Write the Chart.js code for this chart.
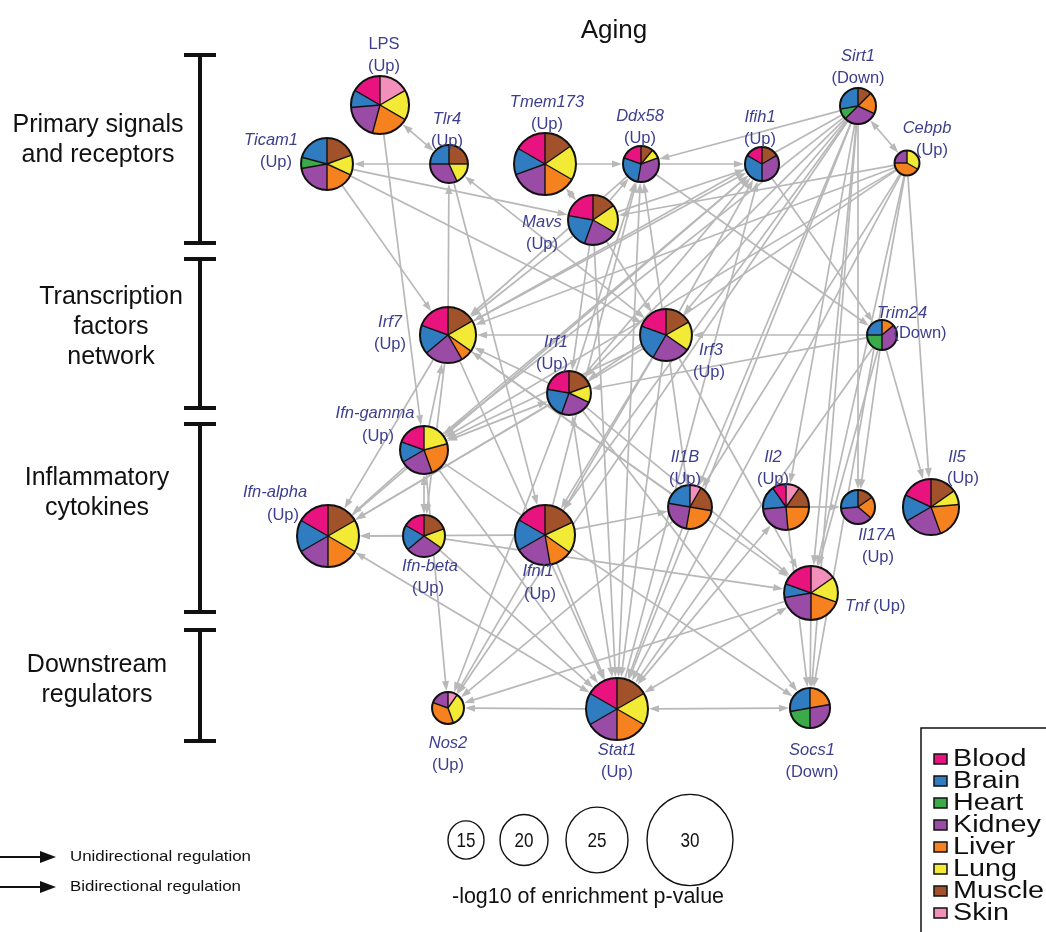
<!DOCTYPE html>
<html>
<head>
<meta charset="utf-8">
<title>Aging</title>
<script src="https://cdn.jsdelivr.net/npm/chart.js@4.4.1/dist/chart.umd.min.js"></script>
<style>
  html, body { margin: 0; padding: 0; background: #fff; }
  #net { display: block; }
</style>
</head>
<body>
<canvas id="net" width="1046" height="932" style="width:1046px;height:932px"></canvas>
<script>
// genes in the network
const nodeNames = ['LPS', 'Ticam1', 'Tlr4', 'Tmem173', 'Ddx58', 'Ifih1', 'Sirt1', 'Cebpb', 'Mavs',
    'Irf7', 'Irf1', 'Irf3', 'Trim24', 'Ifn-gamma', 'Ifn-alpha', 'Ifn-beta', 'Ifnl1', 'Il1B', 'Il2',
    'Il17A', 'Il5', 'Tnf', 'Nos2', 'Stat1', 'Socs1'];
const nodeChange = ['Up', 'Up', 'Up', 'Up', 'Up', 'Up', 'Down', 'Up', 'Up',
    'Up', 'Up', 'Up', 'Down', 'Up', 'Up', 'Up', 'Up', 'Up', 'Up',
    'Up', 'Up', 'Up', 'Up', 'Up', 'Down'];

// network layout
const layoutX = [380, 327, 449, 545, 641, 762, 858, 907, 593, 448, 569, 666, 882, 424, 328, 424, 545, 690, 786, 858, 931, 811, 448, 617, 810];
const layoutY = [105, 164, 164, 164, 164, 164, 106, 163, 220, 335, 393, 335, 335, 450, 536, 536, 535, 507, 507, 507, 507, 593, 708, 709, 708];

// -log10 of enrichment p-value
const enrichment = [23.6, 21.4, 15.8, 25.0, 15.0, 14.2, 15.0, 10.4, 20.7, 22.9, 18.3, 21.4, 12.5,
    20.0, 25.0, 17.5, 24.3, 18.3, 19.2, 14.2, 22.9, 22.1, 13.3, 25.0, 16.7];
const sizeTicks = [15, 20, 25, 30];

const tissues = ['Blood', 'Brain', 'Heart', 'Kidney', 'Liver', 'Lung', 'Muscle', 'Skin'];
// share of each tissue per gene, same order as tissues
const tissueShares = [
    [60, 35, 0, 70, 75, 60, 0, 60],    // LPS
    [0, 75, 25, 80, 65, 45, 70, 0],    // Ticam1
    [0, 90, 0, 115, 0, 65, 90, 0],     // Tlr4
    [60, 50, 0, 70, 60, 65, 55, 0],    // Tmem173
    [70, 100, 0, 120, 0, 30, 40, 0],   // Ddx58
    [60, 120, 0, 120, 0, 0, 60, 0],    // Ifih1
    [0, 100, 35, 110, 70, 0, 45, 0],   // Sirt1
    [0, 0, 0, 90, 150, 120, 0, 0],     // Cebpb
    [80, 80, 0, 80, 0, 65, 55, 0],     // Mavs
    [70, 60, 0, 80, 25, 65, 60, 0],    // Irf7
    [80, 80, 0, 85, 0, 45, 70, 0],     // Irf1
    [70, 80, 0, 85, 0, 65, 60, 0],     // Irf3
    [0, 90, 90, 130, 50, 0, 0, 0],     // Trim24
    [70, 50, 0, 80, 85, 75, 0, 0],     // Ifn-gamma
    [60, 60, 0, 60, 60, 60, 60, 0],    // Ifn-alpha
    [60, 70, 0, 105, 0, 55, 70, 0],    // Ifn-beta
    [60, 60, 0, 70, 45, 60, 65, 0],    // Ifnl1
    [0, 80, 0, 90, 90, 0, 70, 30],     // Il1B
    [35, 60, 0, 90, 85, 0, 55, 35],    // Il2
    [0, 95, 0, 135, 75, 0, 55, 0],     // Il17A
    [65, 55, 0, 80, 75, 30, 55, 0],    // Il5
    [70, 30, 0, 80, 70, 55, 0, 55],    // Tnf
    [0, 0, 0, 70, 130, 125, 0, 35],    // Nos2
    [60, 60, 0, 60, 60, 60, 60, 0],    // Stat1
    [0, 100, 80, 100, 80, 0, 0, 0]     // Socs1
];

// regulation: [from, to, bidirectional]
const edges = [
    ['LPS', 'Tlr4', 1], ['LPS', 'Ifn-gamma', 0],
    ['Tlr4', 'Ticam1', 0], ['Ticam1', 'Mavs', 0], ['Ticam1', 'Irf7', 0], ['Ticam1', 'Irf3', 0],
    ['Irf7', 'Tlr4', 0], ['Tlr4', 'Irf3', 1], ['Tlr4', 'Ifnl1', 0],
    ['Tmem173', 'Ddx58', 0], ['Mavs', 'Tmem173', 1],
    ['Mavs', 'Ddx58', 0], ['Mavs', 'Ifih1', 0], ['Mavs', 'Irf7', 0], ['Mavs', 'Irf3', 0],
    ['Mavs', 'Irf1', 0], ['Mavs', 'Stat1', 0],
    ['Ddx58', 'Ifih1', 0], ['Ddx58', 'Irf7', 0], ['Ddx58', 'Stat1', 1], ['Ddx58', 'Trim24', 0],
    ['Ifih1', 'Trim24', 0],
    ['Sirt1', 'Ddx58', 0], ['Sirt1', 'Cebpb', 1], ['Sirt1', 'Irf7', 0], ['Sirt1', 'Irf1', 0],
    ['Sirt1', 'Irf3', 0], ['Sirt1', 'Ifn-gamma', 0], ['Sirt1', 'Ifnl1', 0], ['Sirt1', 'Stat1', 0],
    ['Sirt1', 'Il1B', 0], ['Sirt1', 'Il2', 0], ['Sirt1', 'Tnf', 0], ['Sirt1', 'Il17A', 0],
    ['Sirt1', 'Socs1', 0], ['Sirt1', 'Nos2', 0],
    ['Cebpb', 'Irf7', 0], ['Cebpb', 'Mavs', 0], ['Cebpb', 'Irf1', 0], ['Cebpb', 'Ifn-gamma', 0],
    ['Cebpb', 'Stat1', 0], ['Cebpb', 'Il1B', 0], ['Cebpb', 'Tnf', 0], ['Cebpb', 'Il5', 0],
    ['Cebpb', 'Socs1', 0],
    ['Irf3', 'Irf7', 0], ['Irf3', 'Ifih1', 0], ['Irf3', 'Ddx58', 0], ['Irf3', 'Ifn-gamma', 0],
    ['Irf3', 'Ifn-alpha', 0], ['Irf3', 'Ifnl1', 0], ['Irf3', 'Stat1', 0], ['Irf3', 'Tnf', 0],
    ['Irf3', 'Il1B', 0], ['Irf3', 'Nos2', 0],
    ['Irf1', 'Irf7', 0], ['Irf1', 'Ifn-gamma', 1], ['Irf1', 'Ifn-alpha', 0], ['Irf1', 'Stat1', 1],
    ['Irf1', 'Nos2', 0], ['Irf1', 'Tnf', 0], ['Irf1', 'Socs1', 0], ['Irf1', 'Ddx58', 0],
    ['Irf1', 'Ifih1', 0],
    ['Irf7', 'Ifn-alpha', 0], ['Irf7', 'Ifn-beta', 0], ['Irf7', 'Stat1', 0], ['Irf7', 'Ifih1', 0],
    ['Irf7', 'Tnf', 0],
    ['Trim24', 'Irf3', 0], ['Trim24', 'Il5', 0], ['Trim24', 'Il17A', 0], ['Trim24', 'Tnf', 0],
    ['Trim24', 'Stat1', 0], ['Trim24', 'Irf1', 0],
    ['Ifn-gamma', 'Ifn-beta', 1], ['Ifn-gamma', 'Ifn-alpha', 0], ['Ifn-gamma', 'Irf7', 0],
    ['Ifn-gamma', 'Stat1', 0], ['Ifn-gamma', 'Nos2', 0], ['Ifn-gamma', 'Socs1', 0],
    ['Ifn-gamma', 'Ifih1', 0],
    ['Ifn-alpha', 'Stat1', 1], ['Ifn-alpha', 'Ifih1', 0],
    ['Ifn-beta', 'Ifn-alpha', 0], ['Ifn-beta', 'Stat1', 0], ['Ifn-beta', 'Tnf', 0],
    ['Ifnl1', 'Ifn-alpha', 0], ['Ifnl1', 'Stat1', 0], ['Ifnl1', 'Il1B', 0], ['Ifnl1', 'Ddx58', 0],
    ['Il1B', 'Stat1', 0], ['Il1B', 'Nos2', 0], ['Il1B', 'Irf7', 0],
    ['Il2', 'Il17A', 0], ['Il2', 'Stat1', 1], ['Il2', 'Socs1', 0],
    ['Tnf', 'Stat1', 1], ['Tnf', 'Nos2', 0], ['Tnf', 'Socs1', 0],
    ['Stat1', 'Nos2', 0], ['Stat1', 'Socs1', 1], ['Stat1', 'Ifih1', 0]
];

const tierNames = [['Primary signals', 'and receptors'], ['Transcription', 'factors', 'network'],
    ['Inflammatory', 'cytokines'], ['Downstream', 'regulators']];

// ---- drawing settings ----
const tissueColors = {
    Blood: '#e8137f', Brain: '#2f7dc0', Heart: '#3bab4a', Kidney: '#9a4ba6',
    Liver: '#f5821f', Lung: '#f3ea35', Muscle: '#a2522b', Skin: '#f28fba'
};
const sizeRadius = [18, 24, 31, 43];     // pixel radius at each size tick
const labelColor = '#3d3e8e';
const edgeColor = '#b8b8b8';
const sansFont = "'Liberation Sans', Arial, sans-serif";

// where the two label lines sit relative to the node centre: [dx, dy, dx2, dy2]
const labelPlace = {
    'LPS': [4, -61], 'Ticam1': [-56, -24, -51, -2], 'Tlr4': [-2, -45], 'Tmem173': [2, -62],
    'Ddx58': [-1, -48], 'Ifih1': [-2, -47], 'Sirt1': [0, -50], 'Cebpb': [20, -35, 25, -13],
    'Mavs': [-51, 2], 'Irf7': [-58, -13], 'Irf1': [-13, -51, -17, -29], 'Irf3': [45, 15, 43, 37],
    'Trim24': [20, -22, 38, -2], 'Ifn-gamma': [-49, -37, -46, -14], 'Ifn-alpha': [-53, -44, -45, -21],
    'Ifn-beta': [6, 30, 4, 52], 'Ifnl1': [-7, 36, -5, 59], 'Il1B': [-5, -50], 'Il2': [-13, -50],
    'Il17A': [19, 28, 20, 50], 'Il5': [26, -50, 32, -29], 'Nos2': [0, 35], 'Stat1': [0, 41],
    'Socs1': [2, 42]
};

function radiusFor(v) {
    // piecewise linear through the size legend, extended at both ends
    let i = 0;
    if (v > sizeTicks[sizeTicks.length - 1]) i = sizeTicks.length - 2;
    else while (i < sizeTicks.length - 2 && v > sizeTicks[i + 1]) i++;
    const t = (v - sizeTicks[i]) / (sizeTicks[i + 1] - sizeTicks[i]);
    return sizeRadius[i] + t * (sizeRadius[i + 1] - sizeRadius[i]);
}

// text squeezed or stretched horizontally by factor k
function stretchText(c, s, x, y, k, align) {
    c.save();
    c.translate(x, y);
    c.scale(k, 1);
    c.textAlign = align || 'center';
    c.fillText(s, 0, 0);
    c.restore();
}

// text squeezed or stretched to a given width
function fitText(c, s, x, y, width, align) {
    stretchText(c, s, x, y, width / c.measureText(s).width, align);
}

function arrowHead(c, x, y, ux, uy, len, wid, color) {
    c.beginPath();
    c.moveTo(x, y);
    c.lineTo(x - ux * len - uy * wid / 2, y - uy * len + ux * wid / 2);
    c.lineTo(x - ux * len + uy * wid / 2, y - uy * len - ux * wid / 2);
    c.closePath();
    c.fillStyle = color;
    c.fill();
}

function drawPie(c, x, y, r, shares) {
    // clockwise from 12 o'clock, reverse tissue order like R's pie()
    const total = shares.reduce((a, b) => a + b, 0);
    let a = -Math.PI / 2;
    const cuts = [];
    for (let k = tissues.length - 1; k >= 0; k--) {
        if (!shares[k]) continue;
        const a2 = a + shares[k] / total * Math.PI * 2;
        c.beginPath();
        c.moveTo(x, y);
        c.arc(x, y, r, a, a2);
        c.closePath();
        c.fillStyle = tissueColors[tissues[k]];
        c.fill();
        cuts.push(a);
        a = a2;
    }
    c.strokeStyle = '#111';
    c.lineWidth = 1.4;
    if (cuts.length > 1) {
        cuts.forEach(ang => {
            c.beginPath();
            c.moveTo(x, y);
            c.lineTo(x + Math.cos(ang) * r, y + Math.sin(ang) * r);
            c.stroke();
        });
    }
    c.lineWidth = 2;
    c.beginPath();
    c.arc(x, y, r, 0, Math.PI * 2);
    c.stroke();
}

const networkPlugin = {
    id: 'network',
    beforeDraw(chart) {
        const c = chart.ctx;
        c.save();
        c.fillStyle = '#fff';
        c.fillRect(0, 0, chart.width, chart.height);
        c.restore();
    },
    beforeDatasetsDraw(chart) {
        const c = chart.ctx;
        const pts = chart.getDatasetMeta(0).data;
        const idx = name => nodeNames.indexOf(name);
        c.save();
        c.strokeStyle = edgeColor;
        c.lineWidth = 1.7;
        edges.forEach(([from, to, both]) => {
            const ia = idx(from), ib = idx(to);
            const a = pts[ia], b = pts[ib];
            const dx = b.x - a.x, dy = b.y - a.y, L = Math.hypot(dx, dy);
            const ux = dx / L, uy = dy / L;
            const ra = radiusFor(enrichment[ia]) + 1, rb = radiusFor(enrichment[ib]) + 1;
            const sx = a.x + ux * ra, sy = a.y + uy * ra;
            const ex = b.x - ux * rb, ey = b.y - uy * rb;
            c.beginPath();
            c.moveTo(both ? sx + ux * 6 : sx, both ? sy + uy * 6 : sy);
            c.lineTo(ex - ux * 6, ey - uy * 6);
            c.stroke();
            arrowHead(c, ex, ey, ux, uy, 10, 7, edgeColor);
            if (both) arrowHead(c, sx, sy, -ux, -uy, 10, 7, edgeColor);
        });
        c.restore();
    },
    afterDatasetsDraw(chart) {
        const c = chart.ctx;
        const pts = chart.getDatasetMeta(0).data;
        c.save();
        pts.forEach((p, i) => drawPie(c, p.x, p.y, radiusFor(enrichment[i]), tissueShares[i]));

        // gene labels
        c.fillStyle = labelColor;
        c.textBaseline = 'middle';
        pts.forEach((p, i) => {
            const name = nodeNames[i];
            const sub = '(' + nodeChange[i] + ')';
            const nameFont = (name === 'LPS' ? '' : 'italic ') + '16.5px ' + sansFont;
            if (name === 'Tnf') {
                c.textAlign = 'left';
                c.font = nameFont;
                const w = c.measureText(name + ' ').width;
                const lx = p.x + radiusFor(enrichment[i]) + 7, ly = p.y + 13;
                c.fillText(name + ' ', lx, ly);
                c.font = '16.5px ' + sansFont;
                c.fillText(sub, lx + w, ly);
                return;
            }
            const pl = labelPlace[name];
            const dx2 = pl.length > 2 ? pl[2] : pl[0];
            const dy2 = pl.length > 2 ? pl[3] : pl[1] + 22;
            c.textAlign = 'center';
            c.font = nameFont;
            c.fillText(name, p.x + pl[0], p.y + pl[1]);
            c.font = '16.5px ' + sansFont;
            c.fillText(sub, p.x + dx2, p.y + dy2);
        });

        // title
        c.fillStyle = '#111';
        c.font = '26px ' + sansFont;
        c.textAlign = 'center';
        c.fillText('Aging', 614, 31);

        // tier brackets on the left
        const tierSpans = [[55, 243], [259, 408], [424, 612], [630, 741]];
        const tierMid = [140, 327, 493, 680];
        const tierX = [98, 111, 97, 97];
        c.strokeStyle = '#111';
        c.lineWidth = 4;
        c.font = '25px ' + sansFont;
        tierSpans.forEach(([y0, y1], t) => {
            c.beginPath();
            c.moveTo(200, y0); c.lineTo(200, y1);
            c.moveTo(184, y0); c.lineTo(216, y0);
            c.moveTo(184, y1); c.lineTo(216, y1);
            c.stroke();
            const lines = tierNames[t];
            lines.forEach((s, k) => c.fillText(s, tierX[t], tierMid[t] + (k - (lines.length - 1) / 2) * 30));
        });

        // regulation legend
        c.lineWidth = 2;
        c.font = '15px ' + sansFont;
        [[857, 'Unidirectional regulation', 181], [887, 'Bidirectional regulation', 171]].forEach(([y, s, w]) => {
            c.beginPath();
            c.moveTo(0, y); c.lineTo(44, y);
            c.stroke();
            arrowHead(c, 56, y, 1, 0, 16, 12, '#111');
            fitText(c, s, 70, y, w, 'left');
        });

        // size legend
        const sizeCx = [466, 524, 597, 690];
        c.lineWidth = 1.4;
        c.font = '21px ' + sansFont;
        sizeTicks.forEach((v, k) => {
            const r = radiusFor(v);
            c.beginPath();
            c.ellipse(sizeCx[k], 840, r, r * 1.06, 0, 0, Math.PI * 2);
            c.stroke();
            fitText(c, String(v), sizeCx[k], 841, 19, 'center');
        });
        c.font = '22px ' + sansFont;
        fitText(c, '-log10 of enrichment p-value', 588, 897, 272, 'center');

        // tissue legend
        c.lineWidth = 1.5;
        c.strokeRect(921, 728, 140, 220);
        c.font = '23px ' + sansFont;
        tissues.forEach((t, k) => {
            const y = 759 + k * 22;
            c.fillStyle = tissueColors[t];
            c.fillRect(934, y - 5, 13, 10);
            c.strokeRect(934, y - 5, 13, 10);
            c.fillStyle = '#111';
            stretchText(c, t, 953, y + 1, 1.25, 'left');
        });
        c.restore();
    }
};

const ctx = document.getElementById('net');

// nodes as scatter points; pies are painted at their pixel positions
const netChart = new Chart(ctx, {
    type: 'scatter',
    data: {
        datasets: [{
            data: nodeNames.map((n, i) => ({ x: layoutX[i], y: layoutY[i] })),
            pointRadius: 0,
            pointHoverRadius: 0
        }]
    },
    options: {
        responsive: false,
        animation: false,
        events: [],
        layout: { padding: 0 },
        scales: {
            x: { type: 'linear', min: 0, max: 1046, display: false },
            y: { type: 'linear', min: 0, max: 932, reverse: true, display: false }
        },
        plugins: {
            legend: { display: false },
            tooltip: { enabled: false }
        }
    },
    plugins: [networkPlugin]
});
</script>
</body>
</html>
